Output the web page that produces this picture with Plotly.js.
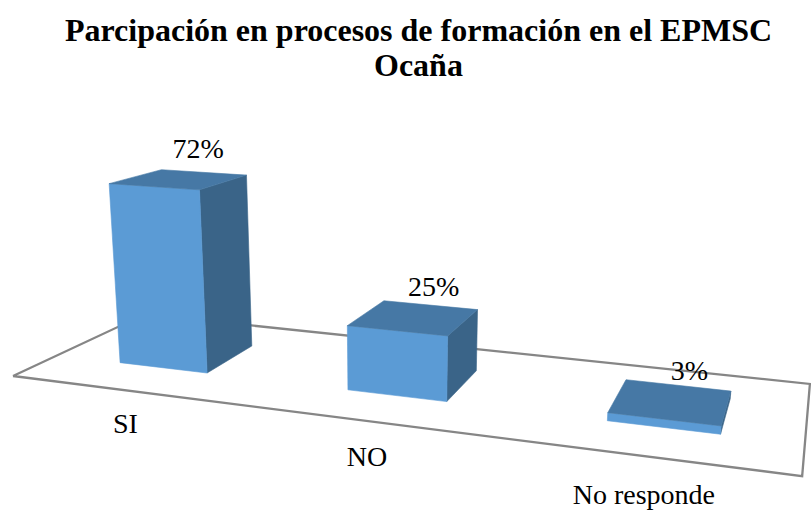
<!DOCTYPE html>
<html>
<head>
<meta charset="utf-8">
<script src="https://cdn.plot.ly/plotly-3.0.1.min.js"></script>
<style>html,body{margin:0;padding:0;background:#fff}#chart{width:811px;height:512px}</style>
</head>
<body>
<div id="chart"></div>
<script>
// Chart data
var categories = ["SI", "NO", "No responde"];
var values = [72, 25, 3];
var titleLine1 = "Parcipación en procesos de formación en el EPMSC";
var titleLine2 = "Ocaña";

// Perspective camera of the original 3D column chart
var origin = [13, 376];
var vanishX = [-3400, -57];
var vanishY = [843, -12];
var vanishZ = [390, 4775];
var scaleX = -0.0626, scaleY = 0.189, scaleZ = -0.000562;

var halfWidth = 0.2, yFront = 0.30, yBack = 0.705, slotDrift = 0.008;
var frontColor = "#5B9BD5", topColor = "#4678A5", sideColor = "#3A6488", floorColor = "#868686";
var serif = "'Liberation Serif','Times New Roman',serif";

function project(X, Y, Z) {
  var u = scaleX * X, v = scaleY * Y, k = scaleZ * Z, w = 1 + u + v + k;
  return [
    (origin[0] + u * vanishX[0] + v * vanishY[0] + k * vanishZ[0]) / w,
    (origin[1] + u * vanishX[1] + v * vanishY[1] + k * vanishZ[1]) / w
  ];
}

function polygon(corners, color) {
  var pts = corners.map(function (c) { return project(c[0], c[1], c[2]); });
  pts.push(pts[0]);
  return {
    type: "scatter", mode: "lines", hoverinfo: "skip", showlegend: false,
    x: pts.map(function (p) { return p[0]; }),
    y: pts.map(function (p) { return p[1]; }),
    fill: color ? "toself" : "none",
    fillcolor: color || undefined,
    line: color ? { color: color, width: 0.6 } : { color: floorColor, width: 2.3 }
  };
}

var traces = [polygon([[0, 0, 0], [3, 0, 0], [3, 1, 0], [0, 1, 0]], null)];

values.forEach(function (val, i) {
  var c = i + 0.5 + i * slotDrift, x0 = c - halfWidth, x1 = c + halfWidth;
  traces.push(polygon([[x1, yFront, 0], [x1, yBack, 0], [x1, yBack, val], [x1, yFront, val]], sideColor));
  traces.push(polygon([[x0, yFront, 0], [x1, yFront, 0], [x1, yFront, val], [x0, yFront, val]], frontColor));
  traces.push(polygon([[x0, yFront, val], [x1, yFront, val], [x1, yBack, val], [x0, yBack, val]], topColor));
});

var valuePts = values.map(function (val, i) { return project(i + 0.5, 0.5, val); });
traces.push({
  type: "scatter", mode: "text", hoverinfo: "skip", showlegend: false,
  x: valuePts.map(function (p, i) { return p[0] + 23 - values[i] * 0.055; }),
  y: valuePts.map(function (p) { return p[1] - 28; }),
  text: values.map(function (v) { return v + "%"; }),
  textposition: "middle center",
  textfont: { family: serif, size: 28, color: "#000" }
});

var catPts = categories.map(function (c, i) { return project(i + 0.5, 0, -14.3); });
traces.push({
  type: "scatter", mode: "text", hoverinfo: "skip", showlegend: false,
  x: catPts.map(function (p) { return p[0]; }),
  y: catPts.map(function (p) { return p[1]; }),
  text: categories,
  textposition: "middle center",
  textfont: { family: serif, size: 28, color: "#000" }
});

Plotly.newPlot("chart", traces, {
  width: 811, height: 512,
  margin: { l: 0, r: 0, t: 0, b: 0 },
  paper_bgcolor: "#fff", plot_bgcolor: "#fff",
  showlegend: false,
  title: {
    text: titleLine1, x: 0.516, xanchor: "center", y: 0.942, yanchor: "middle",
    font: { family: serif, size: 32, color: "#000", weight: 700 }
  },
  annotations: [{
    text: titleLine2, xref: "paper", yref: "paper", x: 0.516, y: 0.873,
    xanchor: "center", yanchor: "middle", showarrow: false,
    font: { family: serif, size: 32, color: "#000", weight: 700 }
  }],
  xaxis: { range: [0, 811], visible: false, fixedrange: true },
  yaxis: { range: [512, 0], visible: false, fixedrange: true }
}, { displayModeBar: false, staticPlot: true });
</script>
</body>
</html>
